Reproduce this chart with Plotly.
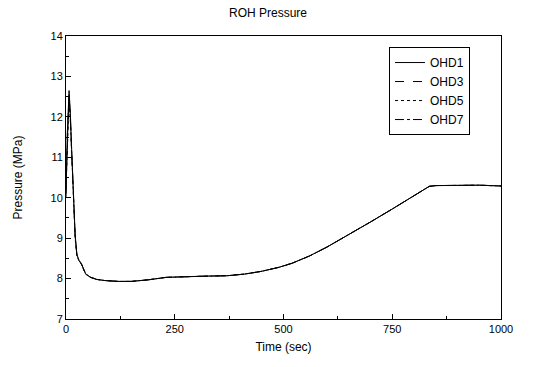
import plotly.graph_objects as go

time = [0, 3, 7, 10, 13, 17, 21, 25, 30, 35, 40, 45, 55, 70, 90, 120, 150, 190, 230, 270,
        320, 370, 410, 450, 490, 520, 560, 600, 650, 700, 750, 800, 835, 850, 900, 950, 1000]
ohd1 = [10.0, 11.6, 12.65, 12.1, 11.2, 10.3, 9.1, 8.6, 8.45, 8.38, 8.25, 8.12, 8.04, 7.98, 7.95, 7.93, 7.93, 7.97, 8.03, 8.05,
        8.06, 8.07, 8.11, 8.18, 8.28, 8.38, 8.56, 8.78, 9.08, 9.4, 9.72, 10.04, 10.28, 10.3, 10.31, 10.31, 10.29]
ohd3 = [10.1, 11.5, 12.55, 12.0, 11.1, 10.2, 9.05, 8.58, 8.44, 8.37, 8.24, 8.12, 8.04, 7.98, 7.95, 7.93, 7.93, 7.97, 8.03, 8.05,
        8.06, 8.07, 8.11, 8.18, 8.28, 8.38, 8.56, 8.78, 9.08, 9.4, 9.72, 10.04, 10.28, 10.3, 10.31, 10.31, 10.29]
ohd5 = [10.2, 11.3, 12.4, 11.9, 11.0, 10.1, 9.0, 8.56, 8.43, 8.36, 8.23, 8.11, 8.03, 7.98, 7.95, 7.93, 7.93, 7.97, 8.03, 8.05,
        8.06, 8.07, 8.11, 8.18, 8.28, 8.38, 8.56, 8.78, 9.08, 9.4, 9.72, 10.04, 10.28, 10.3, 10.31, 10.31, 10.29]
ohd7 = [10.3, 11.4, 12.5, 11.95, 11.05, 10.15, 9.05, 8.57, 8.44, 8.37, 8.24, 8.12, 8.04, 7.98, 7.95, 7.93, 7.93, 7.97, 8.03, 8.05,
        8.06, 8.07, 8.11, 8.18, 8.28, 8.38, 8.56, 8.78, 9.08, 9.4, 9.72, 10.04, 10.28, 10.3, 10.31, 10.31, 10.29]

names = ["OHD1", "OHD3", "OHD5", "OHD7"]
series = [ohd1, ohd3, ohd5, ohd7]
dashes = ["solid", "dash", "dot", "dashdot"]

FONT = "Liberation Sans, Arial, sans-serif"

fig = go.Figure()
for n, s, d in zip(names, series, dashes):
    fig.add_trace(go.Scatter(x=time, y=s, name=n, mode="lines",
                             line=dict(color="black", width=1, dash=d)))

fig.update_layout(
    width=536, height=367,
    margin=dict(l=66, r=35, t=36, b=48),
    paper_bgcolor="white", plot_bgcolor="white",
    font=dict(family=FONT, color="black", size=11),
    title=dict(text="ROH Pressure", x=0.5, xanchor="center", y=0.965, yanchor="middle",
               font=dict(size=12, family=FONT)),
    legend=dict(x=0.7425, y=0.961, xanchor="left", yanchor="top",
                bordercolor="black", borderwidth=1, bgcolor="white",
                entrywidth=50, entrywidthmode="pixels",
                font=dict(size=12, family=FONT), tracegroupgap=0),
)
fig.update_xaxes(range=[0, 1000], tickvals=[0, 250, 500, 750, 1000],
                 ticks="inside", ticklen=5, tickwidth=1, tickcolor="black",
                 minor=dict(tickvals=[125, 375, 625, 875], ticks="inside", ticklen=3, tickcolor="black"),
                 showline=True, linecolor="black", linewidth=1, mirror=True,
                 showgrid=False, zeroline=False,
                 title=dict(text="Time (sec)", font=dict(size=12), standoff=8))
fig.update_yaxes(range=[7, 14], tickvals=[7, 8, 9, 10, 11, 12, 13, 14],
                 ticks="inside", ticklen=5, tickwidth=1, tickcolor="black",
                 minor=dict(tickvals=[7.5, 8.5, 9.5, 10.5, 11.5, 12.5, 13.5], ticks="inside", ticklen=3, tickcolor="black"),
                 showline=True, linecolor="black", linewidth=1, mirror=True,
                 showgrid=False, zeroline=False,
                 title=dict(text="Pressure (MPa)", font=dict(size=12), standoff=25))

fig.write_html("out.html")
